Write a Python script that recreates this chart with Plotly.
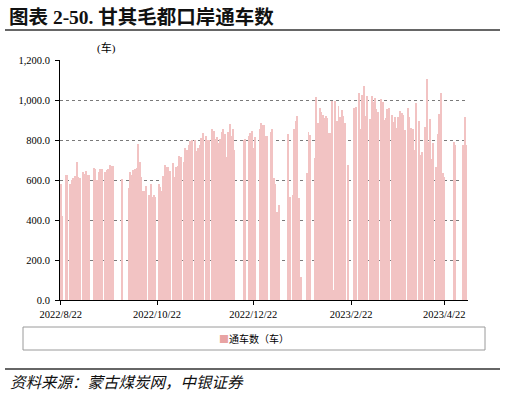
import plotly.graph_objects as go
import pandas as pd

# ---------------- data ----------------
start_date = "2022-08-22"
# daily number of vehicles (None = no data for that day)
vehicles = [
    580, 420, None, 625, 625, None, 580, 600, 610, 620,          # 0-9
    690, 615, 610, None, 640, 630, 645, 625, 625, None,          # 10-19
    None, 660, 655, 600, 640, 655, 655, None, 640, 650,          # 20-29
    655, 675, 670, 670, None, None, None, None, None, 605,       # 30-39
    None, None, None, 560, 640, 625, 650, 655, 660, 780,         # 40-49
    690, 617, 545, 545, 570, None, 525, 578, 513, 525,           # 50-59
    517, None, 578, 567, 545, 620, 675, 667, 663, 645,           # 60-69
    None, 683, 617, 663, 670, 720, 717, None, 692, 758,          # 70-79
    750, 775, 795, 800, None, 800, 747, 758, 775, 808,           # 80-89
    833, None, 820, 800, 800, None, 853, 847, 805, 813,          # 90-99
    783, 803, 842, 853, 830, 717, 842, 880, 820, 853,            # 100-109
    750, None, None, None, None, None, 800, 803, None, 820,      # 110-119
    837, 845, 758, 813, None, None, 855, 887, 875, 875,          # 120-129
    820, 820, None, 842, 853, 612, 580, 442, 475, None,          # 130-139
    None, None, None, None, 830, 517, None, 525, 853, 897,       # 140-149
    920, 512, 117, None, None, None, 637, 842, 825, None,        # 150-159
    None, 708, 1013, 887, 958, 942, 925, 908, 920, 908,          # 160-169
    833, 833, 997, 50, 997, 897, 970, 917, 950, 920,             # 170-179
    883, None, 675, None, None, None, 962, 967, None, 1033,      # 180-189
    853, 1025, 1070, 920, 1020, None, 903, 1020, 992, 1012,      # 190-199
    953, 942, None, 1003, 992, 900, 910, 955, 960, None,         # 200-209
    925, 892, 917, 858, 913, 945, 937, 925, 850, None,           # 210-219
    958, 913, 858, 853, 750, 987, None, 895, 725, 742,           # 220-229
    None, 863, 1103, 792, 903, 703, 787, None, 667, 828,         # 230-239
    928, 1033, 637, 613, None, None, None, None, None, 792,      # 240-249
    775, None, None, None, None, 775, 917, 775,                  # 250-257
]
dates = pd.date_range(start_date, periods=len(vehicles), freq="D")

x_tick_dates = ["2022-08-22", "2022-10-22", "2022-12-22", "2023-02-22", "2023-04-22"]
x_tick_labels = ["2022/8/22", "2022/10/22", "2022/12/22", "2023/2/22", "2023/4/22"]
y_tick_vals = [0, 200, 400, 600, 800, 1000, 1200]
y_tick_labels = ["0.0", "200.0", "400.0", "600.0", "800.0", "1,000.0", "1,200.0"]

title_text = "图表 2-50. 甘其毛都口岸通车数"
unit_text = "(车)"
series_name = "通车数（车）"
source_text = "资料来源：蒙古煤炭网，中银证券"

# ---------------- layout helpers ----------------
W, H = 505, 396
L, R, T, B = 60, 468, 60, 300


def px(x):
    return (x - L) / (R - L)


def py(y):
    return (B - y) / (B - T)


BAR_COLOR = "#F2C3C3"
SERIF = "Liberation Serif, Noto Sans CJK SC"
CJK = "Noto Sans CJK SC, Liberation Serif"

fig = go.Figure()
fig.add_trace(go.Bar(
    x=dates, y=vehicles, name=series_name,
    marker=dict(color=BAR_COLOR, line=dict(width=0)),
    width=0.62 * 86400000, showlegend=False,
))

fig.update_layout(
    width=W, height=H, autosize=False,
    margin=dict(l=L, r=W - R, t=T, b=H - B, pad=0),
    paper_bgcolor="white", plot_bgcolor="white",
    bargap=0,
    xaxis=dict(
        type="date", range=["2022-08-21 12:00", "2023-05-07 02:00"],
        tickvals=x_tick_dates, ticktext=x_tick_labels,
        ticks="outside", ticklen=4, tickcolor="#000", tickwidth=1,
        showline=True, linecolor="#000", linewidth=1,
        showgrid=False, zeroline=False,
        tickfont=dict(family=SERIF, size=10.5, color="#000"),
    ),
    yaxis=dict(
        range=[0, 1200], tickvals=y_tick_vals, ticktext=y_tick_labels,
        ticks="outside", ticklen=4, tickcolor="#000", tickwidth=1,
        showline=True, linecolor="#000", linewidth=1,
        showgrid=True, gridcolor="#7a7a7a", griddash="dot", gridwidth=1,
        zeroline=False, ticklabelstandoff=3,
        tickfont=dict(family=SERIF, size=10.5, color="#000"),
    ),
)

shapes = [
    dict(type="line", xref="paper", yref="paper",
         x0=px(5), x1=px(500), y0=py(30), y1=py(30),
         line=dict(color="#333", width=1.5)),
    dict(type="line", xref="paper", yref="paper",
         x0=px(5), x1=px(500), y0=py(369), y1=py(369),
         line=dict(color="#333", width=1.5)),
    dict(type="rect", xref="paper", yref="paper",
         x0=px(23), x1=px(485), y0=py(327), y1=py(350),
         line=dict(color="#9a9a9a", width=1), fillcolor="rgba(0,0,0,0)"),
]
fig.update_layout(shapes=shapes)

annotations = [
    dict(x=px(7), y=py(17), xref="paper", yref="paper", xanchor="left", yanchor="middle",
         text="<b>" + title_text + "</b>", showarrow=False,
         font=dict(family=SERIF, size=19.5, color="#111")),
    dict(x=px(106), y=py(48), xref="paper", yref="paper", xanchor="center", yanchor="middle",
         text=unit_text, showarrow=False,
         font=dict(family=SERIF, size=11, color="#000")),
    dict(x=px(254), y=py(338.5), xref="paper", yref="paper", xanchor="center", yanchor="middle",
         text='<span style="color:#E8A3A3">■</span>' + series_name, showarrow=False,
         font=dict(family=CJK, size=10, color="#000")),
    dict(x=px(8), y=py(381), xref="paper", yref="paper", xanchor="left", yanchor="middle",
         text="<i>" + source_text + "</i>", showarrow=False,
         font=dict(family=CJK, size=15.5, color="#111")),
]
fig.update_layout(annotations=annotations)

fig.write_html("out.html", config={"displayModeBar": False},
               post_script="document.body.style.margin='0';")
